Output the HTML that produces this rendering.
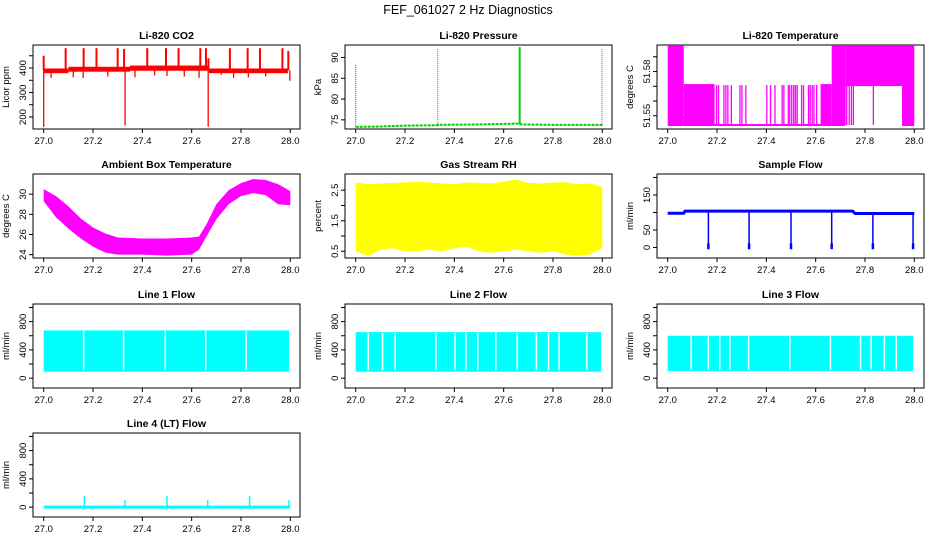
<!DOCTYPE html>
<html><head><meta charset="utf-8">
<style>
html,body{margin:0;padding:0;background:#fff;}
svg{display:block;font-family:"Liberation Sans",Arial,sans-serif;}
</style></head>
<body>
<svg id="chart" width="936" height="540" viewBox="0 0 936 540">
<text x="468" y="14" text-anchor="middle" font-size="12.5">FEF_061027  2 Hz Diagnostics</text>
</svg>
<script>
const xTicks = [27.0, 27.2, 27.4, 27.6, 27.8, 28.0];

const co2SegX = [27.0, 27.1, 27.35, 27.67, 27.99];
const co2SegLo = [383, 389, 393, 383];
const co2SegHi = [394, 401, 406, 394];
const co2SpikeX = [27.0, 27.089, 27.162, 27.214, 27.30, 27.326, 27.42, 27.496, 27.547, 27.635, 27.658, 27.668, 27.755, 27.827, 27.877, 27.968, 27.992];
const co2SpikeY = [450, 481, 481, 481, 481, 478, 481, 481, 481, 481, 481, 440, 481, 481, 481, 481, 470];
const co2DropX = [27.0, 27.33, 27.667, 27.03, 27.12, 27.16, 27.26, 27.37, 27.45, 27.5, 27.57, 27.63, 27.72, 27.77, 27.83, 27.9, 27.998];
const co2DropY = [160, 165, 160, 360, 362, 360, 365, 362, 370, 368, 365, 360, 372, 360, 362, 365, 348];

const presX = [27.0, 27.1, 27.2, 27.33, 27.34, 27.5, 27.66, 27.67, 27.8, 28.0];
const presY = [73.3, 73.4, 73.6, 73.7, 73.8, 73.9, 74.1, 73.9, 73.8, 73.8];
const presSpikeX = [27.0, 27.333, 27.665, 27.999];
const presSpikeY = [88.5, 92.2, 92.5, 92.0];

const tempSegX = [27.0, 27.065, 27.19, 27.62, 27.665, 27.72, 27.95, 28.0];
const tempSegLo = [51.5437, 51.5437, 51.5437, 51.5437, 51.5437, 51.5708, 51.5437];
const tempSegHi = [51.5968, 51.5708, 51.5437, 51.5708, 51.5968, 51.5968, 51.5968];
const tempUpX = [27.198, 27.206, 27.228, 27.236, 27.244, 27.258, 27.293, 27.301, 27.317, 27.402, 27.417, 27.435, 27.464, 27.471, 27.489, 27.495, 27.503, 27.511, 27.518, 27.525, 27.543, 27.551, 27.571, 27.578, 27.586, 27.593, 27.604];
const tempDownX = [27.719, 27.726, 27.736, 27.745, 27.753, 27.834];

const ambX = [27.0, 27.05, 27.1, 27.15, 27.2, 27.25, 27.3, 27.4, 27.5, 27.6, 27.63, 27.66, 27.7, 27.75, 27.8, 27.85, 27.9, 27.95, 28.0];
const ambHi = [30.5, 29.8, 28.8, 27.6, 26.7, 26.1, 25.7, 25.6, 25.6, 25.7, 25.8, 27.0, 29.0, 30.4, 31.1, 31.5, 31.4, 31.0, 30.3];
const ambLo = [29.3, 27.7, 26.6, 25.6, 24.8, 24.2, 24.0, 24.0, 23.9, 24.0, 24.5, 25.8, 27.5, 29.0, 29.8, 30.1, 29.9, 29.0, 28.9];

const rhX = [27.0, 27.05, 27.1, 27.15, 27.2, 27.25, 27.3, 27.35, 27.4, 27.45, 27.5, 27.55, 27.6, 27.65, 27.7, 27.75, 27.8, 27.85, 27.9, 27.95, 28.0];
const rhHi = [2.75, 2.7, 2.72, 2.74, 2.75, 2.78, 2.75, 2.72, 2.7, 2.75, 2.74, 2.72, 2.78, 2.85, 2.74, 2.72, 2.75, 2.76, 2.7, 2.72, 2.6];
const rhLo = [0.5, 0.35, 0.55, 0.6, 0.5, 0.5, 0.55, 0.5, 0.6, 0.65, 0.5, 0.45, 0.5, 0.55, 0.5, 0.45, 0.5, 0.4, 0.35, 0.4, 0.6];

const sfX = [27.0, 27.065, 27.07, 27.75, 27.76, 28.0];
const sfY = [98, 98, 104, 104, 97, 97];
const sfDropX = [27.165, 27.33, 27.5, 27.665, 27.832, 27.995];
const sfDropY = [0, 0, 0, 0, 0, 0];

const l1Hi = 675, l1Lo = 91;
const l1GapX = [27.162, 27.324, 27.493, 27.657, 27.821];
const l2Hi = 651, l2Lo = 91;
const l2GapX = [27.051, 27.109, 27.160, 27.325, 27.403, 27.447, 27.495, 27.568, 27.655, 27.733, 27.782, 27.825, 27.937];
const l3Hi = 600, l3Lo = 100;
const l3GapX = [27.095, 27.165, 27.211, 27.252, 27.328, 27.495, 27.660, 27.782, 27.825, 27.879, 27.927];
const l4Base = 0;
const l4SpikeX = [27.165, 27.33, 27.5, 27.665, 27.835, 27.995];
const l4SpikeY = [160, 100, 160, 100, 160, 100];

const svg = document.getElementById('chart');
const NS = 'http://www.w3.org/2000/svg';
function el(tag, attrs, parent) {
  const e = document.createElementNS(NS, tag);
  for (const k in attrs) e.setAttribute(k, attrs[k]);
  (parent || svg).appendChild(e);
  return e;
}
const colL = [33, 345, 657], rowT = [45, 174, 304, 433], BW = 267, BH = 84;

function makePanel(col, row, title, ylab, ylim, ticks, labels, name) {
  const L = colL[col], T = rowT[row];
  const g = el('g', {});
  
  
  const sx = v => L + 10.7 + (v - 27) * 246.6;
  const sy = v => T + BH - (v - ylim[0]) / (ylim[1] - ylim[0]) * BH;
  const t = el('text', {x: L + BW / 2, y: T - 6, 'text-anchor': 'middle', 'font-size': 10.5, 'font-weight': 'bold'}, g);
  t.textContent = title;
  
  
  const data = el('g', {}, g);
  
  
  const box = el('rect', {x: L, y: T, width: BW, height: BH, fill: 'none', stroke: '#000', 'stroke-width': 1}, g);
  
  
  const xa = el('g', {}, g);
  
  
  el('line', {x1: sx(27), x2: sx(28), y1: T + BH, y2: T + BH, stroke: '#000'}, xa);
  xTicks.forEach(v => {
    el('line', {x1: sx(v), x2: sx(v), y1: T + BH, y2: T + BH + 4, stroke: '#000'}, xa);
    const lt = el('text', {x: sx(v), y: T + BH + 15, 'text-anchor': 'middle', 'font-size': 9.5}, xa);
    lt.textContent = v.toFixed(1);
  });
  const ya = el('g', {}, g);
  
  
  el('line', {x1: L, x2: L, y1: sy(ticks[0]), y2: sy(ticks[ticks.length - 1]), stroke: '#000'}, ya);
  ticks.forEach(v => {
    el('line', {x1: L - 4, x2: L, y1: sy(v), y2: sy(v), stroke: '#000'}, ya);
  });
  labels.forEach(v => {
    const y = sy(v), x = L - 7;
    const lt = el('text', {x: x, y: y, 'text-anchor': 'middle', 'font-size': 9.5, transform: `rotate(-90 ${x} ${y})`}, ya);
    lt.textContent = String(v);
  });
  const yx = L - 24, yy = T + BH / 2;
  const yl = el('text', {x: yx, y: yy, 'text-anchor': 'middle', 'font-size': 9.5, transform: `rotate(-90 ${yx} ${yy})`}, g);
  yl.textContent = ylab;
  
  
  return {sx, sy, g: data, T, L};
}
function vline(p, x, y1, y2, color, w, extra) {
  const a = {x1: p.sx(x), x2: p.sx(x), y1: p.sy(y1), y2: p.sy(y2), stroke: color, 'stroke-width': w || 1};
  if (extra) Object.assign(a, extra);
  return el('line', a, p.g);
}
function band(p, xs, lo, hi, color) {
  let pts = xs.map((x, i) => p.sx(x) + ',' + p.sy(hi[i]));
  for (let i = xs.length - 1; i >= 0; i--) pts.push(p.sx(xs[i]) + ',' + p.sy(lo[i]));
  return el('polygon', {points: pts.join(' '), fill: color}, p.g);
}
function segBand(p, xs, lo, hi, color) {
  for (let i = 0; i < lo.length; i++) {
    const y1 = p.sy(hi[i]), y2 = p.sy(lo[i]);
    el('rect', {x: p.sx(xs[i]), y: y1 - 1, width: p.sx(xs[i + 1]) - p.sx(xs[i]), height: Math.max(2, y2 - y1 + 2), fill: color}, p.g);
  }
}

let p = makePanel(0, 0, 'Li-820 CO2', 'Licor ppm', [151, 494], [200, 250, 300, 350, 400, 450], [200, 300, 400], 'co2');
segBand(p, co2SegX, co2SegLo, co2SegHi, '#ff0000');
co2SpikeX.forEach((x, i) => vline(p, x, 390, co2SpikeY[i], '#ff0000', 2));
co2DropX.forEach((x, i) => vline(p, x, 390, co2DropY[i], '#ff0000', 1.3));

p = makePanel(1, 0, 'Li-820 Pressure', 'kPa', [72.8, 93], [75, 80, 85, 90], [75, 80, 85, 90], 'pressure');
el('polyline', {points: presX.map((x, i) => p.sx(x) + ',' + p.sy(presY[i])).join(' '), fill: 'none', stroke: '#00cc00', 'stroke-width': 2, 'stroke-dasharray': '3,1'}, p.g);
presSpikeX.forEach((x, i) => {
  if (i === 2) vline(p, x, presY[6], presSpikeY[i], '#00cc00', 2);
  else vline(p, x, 73.5, presSpikeY[i], '#444', 0.8, {'stroke-dasharray': '1,1'});
});

p = makePanel(2, 0, 'Li-820 Temperature', 'degrees C', [51.541, 51.598], [51.55, 51.56, 51.57, 51.58, 51.59], [51.55, 51.58], 'li820-temp');
segBand(p, tempSegX, tempSegLo, tempSegHi, '#ff00ff');
tempUpX.forEach(x => vline(p, x, 51.5437, 51.5708, '#ff00ff', 1.3));
tempDownX.forEach(x => vline(p, x, 51.5437, 51.5708, '#ff00ff', 1.3));

p = makePanel(0, 1, 'Ambient Box Temperature', 'degrees C', [23.67, 32], [24, 26, 28, 30], [24, 26, 28, 30], 'ambient-temp');
band(p, ambX, ambLo, ambHi, '#ff00ff');

p = makePanel(1, 1, 'Gas Stream RH', 'percent', [0.28, 3.03], [0.5, 1.0, 1.5, 2.0, 2.5], [0.5, 1.5, 2.5], 'rh');
band(p, rhX, rhLo, rhHi, '#ffff00');

p = makePanel(2, 1, 'Sample Flow', 'ml/min', [-30, 210], [0, 50, 100, 150, 200], [0, 50, 150], 'sample-flow');
el('polyline', {points: sfX.map((x, i) => p.sx(x) + ',' + p.sy(sfY[i])).join(' '), fill: 'none', stroke: '#0000ff', 'stroke-width': 3}, p.g);
sfDropX.forEach((x, i) => {
  vline(p, x, 100, sfDropY[i], '#0000ff', 1.5);
  vline(p, x, 12, sfDropY[i] - 5, '#0000ff', 2.5);
});

function lineFlow(col, row, title, hi, lo, gaps, name) {
  const q = makePanel(col, row, title, 'ml/min', [-139, 1049], [0, 200, 400, 600, 800, 1000], [0, 400, 800], name);
  el('rect', {x: q.sx(27.0), y: q.sy(hi), width: q.sx(27.995) - q.sx(27.0), height: q.sy(lo) - q.sy(hi), fill: '#00ffff'}, q.g);
  gaps.forEach(x => vline(q, x, lo + 20, hi - 10, '#ffffff', 1.5));
  return q;
}
lineFlow(0, 2, 'Line 1 Flow', l1Hi, l1Lo, l1GapX, 'line1-flow');
lineFlow(1, 2, 'Line 2 Flow', l2Hi, l2Lo, l2GapX, 'line2-flow');
lineFlow(2, 2, 'Line 3 Flow', l3Hi, l3Lo, l3GapX, 'line3-flow');

p = makePanel(0, 3, 'Line 4 (LT) Flow', 'ml/min', [-139, 1049], [0, 200, 400, 600, 800, 1000], [0, 400, 800], 'line4-flow');
el('line', {x1: p.sx(27.0), x2: p.sx(28.0), y1: p.sy(l4Base), y2: p.sy(l4Base), stroke: '#00ffff', 'stroke-width': 3}, p.g);
l4SpikeX.forEach((x, i) => vline(p, x, l4Base, l4SpikeY[i], '#00ffff', 1.5));
</script>
</body></html>
